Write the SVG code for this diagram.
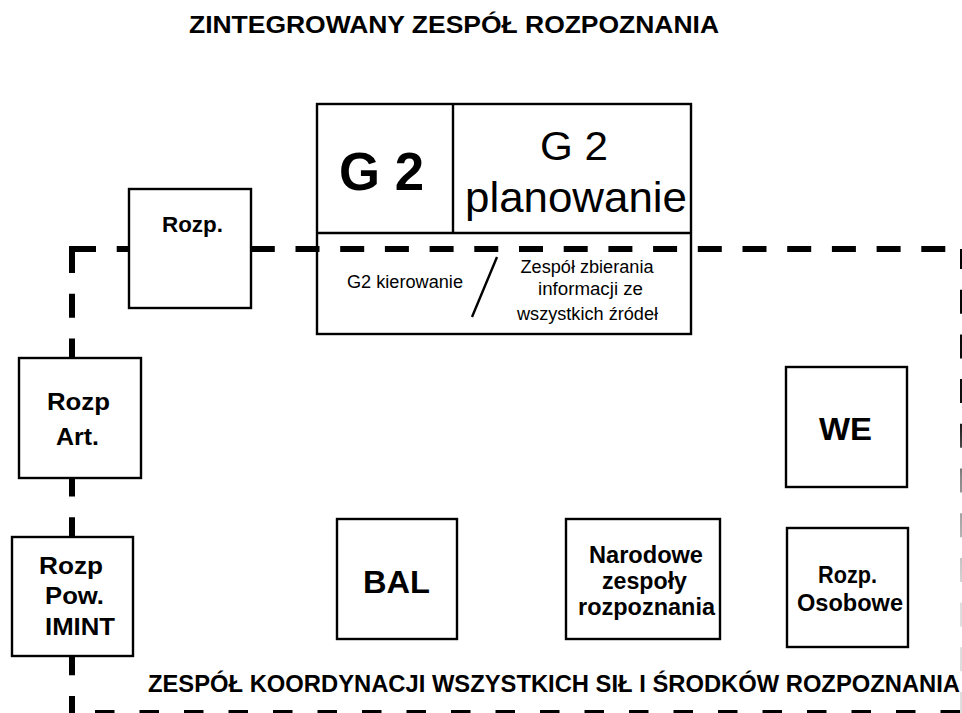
<svg xmlns="http://www.w3.org/2000/svg" width="962" height="713" viewBox="0 0 962 713">
<style>
.box{fill:#fff;stroke:#000;stroke-width:2.4}
.ln{fill:none;stroke:#000;stroke-width:2.4}
.dash{fill:none;stroke:#000;stroke-width:6;stroke-dasharray:24 20.7}
.t{font-family:"Liberation Sans",Arial,sans-serif;fill:#000;text-anchor:middle}
.b{font-weight:bold}
</style>
<defs>
<linearGradient id="fade" gradientUnits="userSpaceOnUse" x1="0" y1="240" x2="0" y2="713">
<stop offset="0" stop-color="#000"/>
<stop offset="0.38" stop-color="#111"/>
<stop offset="0.5" stop-color="#888"/>
<stop offset="0.75" stop-color="#ddd"/>
<stop offset="1" stop-color="#ddd"/>
</linearGradient>
</defs>
<rect width="962" height="713" fill="#fff"/>
<text class="t b" x="454" y="33" font-size="23.5" textLength="530" lengthAdjust="spacingAndGlyphs">ZINTEGROWANY ZESPÓŁ ROZPOZNANIA</text>

<g id="g2">
<rect class="box" x="317" y="104" width="374" height="230"/>
<line class="ln" x1="453" y1="104" x2="453" y2="233"/>
<line class="ln" x1="317" y1="233" x2="691" y2="233"/>
<text class="t b" x="381.5" y="190" font-size="53" textLength="85" lengthAdjust="spacingAndGlyphs">G 2</text>
<text class="t" x="574" y="160" font-size="40" textLength="68" lengthAdjust="spacingAndGlyphs">G 2</text>
<text class="t" x="576" y="212" font-size="42" textLength="222" lengthAdjust="spacingAndGlyphs">planowanie</text>
<text class="t" x="405" y="288" font-size="17.5" textLength="116" lengthAdjust="spacingAndGlyphs">G2 kierowanie</text>
<line class="ln" x1="497" y1="257" x2="472" y2="317"/>
<text class="t" x="587" y="273" font-size="17.5" textLength="133" lengthAdjust="spacingAndGlyphs">Zespół zbierania</text>
<text class="t" x="590.5" y="295" font-size="17.5" textLength="105" lengthAdjust="spacingAndGlyphs">informacji ze</text>
<text class="t" x="587.5" y="320" font-size="17.5" textLength="141" lengthAdjust="spacingAndGlyphs">wszystkich źródeł</text>
</g>

<g id="connectors">
<path class="dash" d="M72,249 H962"/>
<path class="dash" d="M72,249 V713"/>
<rect x="69" y="246" width="3" height="3" fill="#000"/>
<path d="M963,249 V713" fill="none" stroke="url(#fade)" stroke-width="6" stroke-dasharray="24 20.7" stroke-dashoffset="4"/>
<path d="M95,713 H962" fill="none" stroke="#000" stroke-width="6" stroke-dasharray="19.5 25"/>
</g>

<g id="rozp">
<rect class="box" x="129" y="189" width="122" height="119"/>
<text class="t b" x="192.5" y="232" font-size="22" textLength="61" lengthAdjust="spacingAndGlyphs">Rozp.</text>
</g>

<g id="rozp-art">
<rect class="box" x="19" y="358" width="122" height="120"/>
<text class="t b" x="78.5" y="410" font-size="24" textLength="63" lengthAdjust="spacingAndGlyphs">Rozp</text>
<text class="t b" x="77.5" y="445" font-size="24" textLength="43" lengthAdjust="spacingAndGlyphs">Art.</text>
</g>

<g id="rozp-imint">
<rect class="box" x="12" y="537" width="121" height="119"/>
<text class="t b" x="71" y="574" font-size="24" textLength="64" lengthAdjust="spacingAndGlyphs">Rozp</text>
<text class="t b" x="74.5" y="604" font-size="24" textLength="59" lengthAdjust="spacingAndGlyphs">Pow.</text>
<text class="t b" x="80" y="635" font-size="24" textLength="70" lengthAdjust="spacingAndGlyphs">IMINT</text>
</g>

<g id="bal">
<rect class="box" x="337" y="519" width="120" height="120"/>
<text class="t b" x="396.5" y="593" font-size="31" textLength="67" lengthAdjust="spacingAndGlyphs">BAL</text>
</g>

<g id="narodowe">
<rect class="box" x="566" y="519" width="154" height="120"/>
<text class="t b" x="646" y="563" font-size="23.5" textLength="114" lengthAdjust="spacingAndGlyphs">Narodowe</text>
<text class="t b" x="644.5" y="589" font-size="23.5" textLength="85" lengthAdjust="spacingAndGlyphs">zespoły</text>
<text class="t b" x="646.5" y="615" font-size="23.5" textLength="137" lengthAdjust="spacingAndGlyphs">rozpoznania</text>
</g>

<g id="we">
<rect class="box" x="786" y="367" width="121" height="120"/>
<text class="t b" x="845.5" y="440" font-size="32" textLength="53" lengthAdjust="spacingAndGlyphs">WE</text>
</g>

<g id="osobowe">
<rect class="box" x="787" y="528" width="121" height="119"/>
<text class="t b" x="847.5" y="583" font-size="23.5" textLength="59" lengthAdjust="spacingAndGlyphs">Rozp.</text>
<text class="t b" x="850" y="611" font-size="23.5" textLength="106" lengthAdjust="spacingAndGlyphs">Osobowe</text>
</g>

<text class="t b" x="554" y="692" font-size="23" textLength="812" lengthAdjust="spacingAndGlyphs">ZESPÓŁ KOORDYNACJI WSZYSTKICH SIŁ I ŚRODKÓW ROZPOZNANIA</text>
</svg>
